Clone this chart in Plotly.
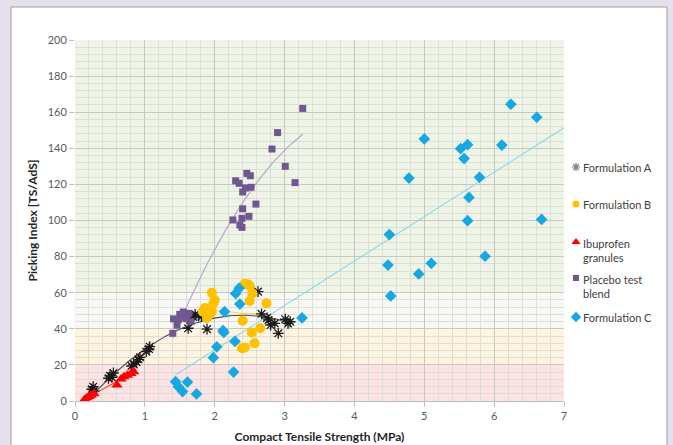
import numpy as np
import plotly.graph_objects as go

# ---------------- data ----------------
a_x = [0.24, 0.26, 0.27, 0.48, 0.50, 0.53, 0.55, 0.81, 0.84, 0.88, 0.91, 0.93, 1.02, 1.06, 1.07,
       1.62, 1.65, 1.69, 1.72, 1.77, 1.81, 1.89, 2.62, 2.67, 2.75, 2.77, 2.80, 2.86, 2.91, 3.01, 3.05, 3.08]
a_y = [6.5, 7.9, 5.5, 12.6, 13.9, 13.1, 15.5, 19.4, 20.3, 21.5, 23.1, 24.2, 27.3, 28.8, 30.1,
       40.3, 44.9, 46.7, 48.0, 47.2, 46.7, 39.8, 60.6, 48.3, 46.0, 44.9, 42.1, 43.0, 37.5, 45.3, 43.0, 43.9]

b_x = [1.83, 1.86, 1.89, 1.92, 1.96, 1.96, 1.98, 2.00, 2.39, 2.40, 2.43, 2.43, 2.48, 2.50, 2.50,
       2.53, 2.54, 2.57, 2.65, 2.74]
b_y = [49.5, 51.5, 46.0, 48.0, 49.5, 60.0, 54.0, 56.0, 29.2, 44.5, 29.7, 65.0, 64.5, 63.7, 55.4,
       38.0, 59.7, 32.0, 40.3, 54.1]

ibu_x = [0.14, 0.17, 0.20, 0.23, 0.27, 0.60, 0.66, 0.70, 0.75, 0.80, 0.84]
ibu_y = [1.0, 1.8, 2.5, 3.2, 4.0, 8.9, 12.2, 13.5, 14.2, 15.2, 16.2]

pl_x = [1.40, 1.41, 1.46, 1.48, 1.50, 1.55, 1.58, 1.60, 1.63, 1.66, 2.26, 2.30, 2.35, 2.36, 2.39,
        2.39, 2.40, 2.40, 2.44, 2.46, 2.49, 2.51, 2.52, 2.59, 2.82, 2.90, 3.01, 3.15, 3.26]
pl_y = [37.5, 45.5, 42.0, 45.0, 48.0, 49.3, 46.0, 45.5, 48.6, 44.0, 100.3, 122.0, 120.6, 97.5, 96.2,
        101.2, 106.5, 115.8, 118.0, 126.1, 102.3, 124.8, 118.4, 109.1, 139.6, 148.7, 130.0, 121.0, 162.1]

c_x = [1.44, 1.48, 1.54, 1.61, 1.74, 1.98, 2.03, 2.12, 2.13, 2.14, 2.27, 2.29, 2.30, 2.35, 2.36,
       3.25, 4.48, 4.50, 4.52, 4.78, 4.92, 5.00, 5.10, 5.52, 5.57, 5.62, 5.62, 5.64, 5.79, 5.87,
       6.11, 6.24, 6.61, 6.68]
c_y = [10.7, 7.9, 5.2, 10.5, 3.9, 24.0, 30.0, 39.0, 38.0, 49.5, 16.0, 33.0, 59.5, 62.5, 53.7,
       46.0, 75.3, 92.2, 58.2, 123.5, 70.4, 145.2, 76.3, 139.8, 134.3, 142.0, 99.9, 112.8, 123.9, 80.2,
       141.8, 164.4, 157.2, 100.6]

series_names = ["Formulation A", "Formulation B", "Ibuprofen<br>granules", "Placebo test<br>blend", "Formulation C"]
x_ticks = [0, 1, 2, 3, 4, 5, 6, 7]
y_ticks = [0, 20, 40, 60, 80, 100, 120, 140, 160, 180, 200]

# ---------------- layout geometry (pixels) ----------------
W, H = 673, 445
L, R, T, B = 75, 0, 40, 44
PLOT_RIGHT = 564                      # right edge of the data area
aw, ah = W - L - R, H - T - B         # area inside margins
x_dom_end = (PLOT_RIGHT - L) / aw

def pxx(p):
    return (p - L) / aw

def pxy(p):
    return (H - B - p) / ah

fig = go.Figure()

def trend(xs, ys, deg, x_end=None):
    coef = np.polyfit(xs, ys, deg)
    xx = np.linspace(min(xs), x_end if x_end is not None else max(xs), 150)
    return xx, np.polyval(coef, xx)

# trendlines (under markers)
for xs, ys, deg, col, xe in [
    (a_x, a_y, 2, "#4d4d4d", None),
    (b_x, b_y, 2, "#ffcf4d", None),
    (ibu_x, ibu_y, 1, "#ff4040", None),
    (pl_x, pl_y, 2, "#b3a2cc", None),
    (c_x, c_y, 1, "#8fd6ea", 7.0),
]:
    tx, ty = trend(xs, ys, deg, xe)
    fig.add_trace(go.Scatter(x=tx, y=ty, mode="lines", line=dict(color=col, width=1.1),
                             showlegend=False, hoverinfo="skip"))

styles = [
    dict(symbol="asterisk-open", size=9, color="#1a1a1a", line=dict(color="#1a1a1a", width=1.3)),
    dict(symbol="circle", size=10, color="#ffc000"),
    dict(symbol="triangle-up", size=10, color="#ff0000"),
    dict(symbol="square", size=7, color="#70578f"),
    dict(symbol="diamond", size=9, color="#17a8e3"),
]
legend_styles = [
    dict(symbol="asterisk-open", size=7, color="#7f7f7f", line=dict(color="#7f7f7f", width=1.2)),
    dict(symbol="circle", size=7, color="#ffc000"),
    dict(symbol="triangle-up", size=8, color="#ff0000"),
    dict(symbol="square", size=6, color="#70578f"),
    dict(symbol="diamond", size=8, color="#17a8e3"),
]

for xs, ys, name, st in zip([a_x, b_x, ibu_x, pl_x, c_x], [a_y, b_y, ibu_y, pl_y, c_y], series_names, styles):
    fig.add_trace(go.Scatter(x=xs, y=ys, mode="markers", name=name.replace("<br>", " "),
                             marker=st, showlegend=False))

# ---- legend (drawn by hand at the reference positions) ----
leg_sym_x = 576
leg_text_x = 581
leg_rows = [167, 204, 242, 278, 317]      # symbol rows (px)
leg_text_rows = [167, 204, 250, 286, 317]  # text centres (px)
for name, st, ys_px in zip(series_names, legend_styles, leg_rows):
    fig.add_trace(go.Scatter(x=[leg_sym_x], y=[ys_px], xaxis="x2", yaxis="y2", mode="markers",
                             marker=st, showlegend=False, hoverinfo="skip", cliponaxis=False))

annotations = []
for name, ty in zip(series_names, leg_text_rows):
    annotations.append(dict(text=name, xref="paper", yref="paper", x=pxx(leg_text_x), y=pxy(ty),
                            xanchor="left", yanchor="middle", align="left", showarrow=False,
                            font=dict(size=11, color="#404040")))

shapes = [
    dict(type="rect", xref="paper", yref="paper", layer="below",
         x0=pxx(11), x1=pxx(667), y0=pxy(452), y1=pxy(7),
         fillcolor="#ffffff", line=dict(color="#9d9d9d", width=1)),
]
for y0, y1, col in [(0, 20, "#fde3e3"), (20, 40, "#fef4e0"), (40, 60, "#f8f9f5"), (60, 200, "#eef5e7")]:
    shapes.append(dict(type="rect", xref="x", yref="y", layer="below",
                       x0=0, x1=7, y0=y0, y1=y1, fillcolor=col, line=dict(width=0)))

font_family = "Lato, 'Open Sans', sans-serif"

fig.update_layout(
    width=W, height=H,
    margin=dict(l=L, r=R, t=T, b=B, pad=0, autoexpand=False),
    paper_bgcolor="#e5e0ec",
    plot_bgcolor="rgba(0,0,0,0)",
    shapes=shapes,
    annotations=annotations,
    font=dict(family=font_family, size=11, color="#595959"),
    showlegend=False,
    hovermode=False,
    xaxis=dict(domain=[0, x_dom_end], range=[0, 7], tickvals=x_ticks, ticktext=[str(v) for v in x_ticks],
               showgrid=True, gridcolor="#c6c9c1", gridwidth=1,
               minor=dict(dtick=0.2, showgrid=True, gridcolor="#dcdfd7", gridwidth=1),
               zeroline=False, showline=True, linecolor="#bfbfbf", linewidth=1,
               ticks="outside", ticklen=5, tickcolor="#bfbfbf", automargin=False,
               title=dict(text="<b>Compact Tensile Strength (MPa)</b>", standoff=11,
                          font=dict(size=12, color="#262626")),
               fixedrange=True),
    yaxis=dict(domain=[0, 1], range=[0, 200], tickvals=y_ticks, ticktext=[str(v) for v in y_ticks],
               showgrid=True, gridcolor="#c6c9c1", gridwidth=1,
               minor=dict(dtick=4, showgrid=True, gridcolor="#dcdfd7", gridwidth=1),
               zeroline=False, showline=False,
               ticks="outside", ticklen=5, tickcolor="#bfbfbf", automargin=False,
               title=dict(text="<b>Picking Index [TS/AdS]</b>", standoff=7,
                          font=dict(size=12, color="#262626")),
               fixedrange=True),
    # helper axes spanning the area inside the margins, in pixel units, for the hand-drawn legend symbols
    xaxis2=dict(domain=[0, 1], range=[L, W - R], visible=False, anchor="y2", fixedrange=True),
    yaxis2=dict(domain=[0, 1], range=[H - B, T], visible=False, anchor="x2", fixedrange=True),
)

fig.write_html("out.html", config={"displayModeBar": False, "staticPlot": True},
               post_script="document.body.style.margin='0';document.body.style.overflow='hidden';")
